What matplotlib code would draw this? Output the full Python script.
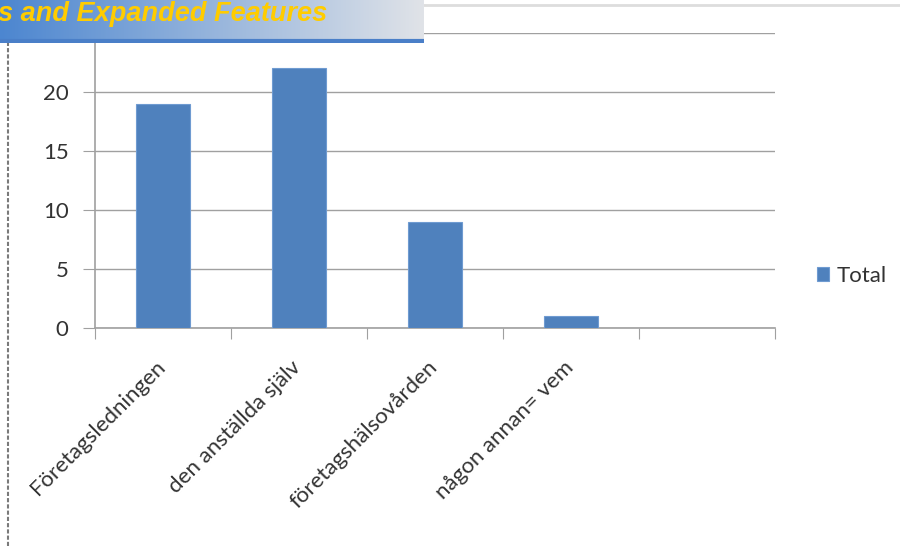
import numpy as np
from matplotlib import pyplot as plt
from matplotlib.transforms import ScaledTranslation

# chart data
categories = ["Företagsledningen", "den anställda själv", "företagshälsovården", "någon annan= vem", ""]
totals = [19, 22, 9, 1, np.nan]
y_ticks = [0, 5, 10, 15, 20, 25]
y_labels = ["0", "5", "10", "15", "20", ""]
banner_text = "s and Expanded Features"
legend_label = "Total"

W, H = 900, 546
bar_color = "#4F81BD"
grid_color = "#a0a0a0"
text_color = "#333333"


def fx(px):
    return px / W


def fy(py):
    # pixel from top -> figure fraction from bottom
    return 1 - py / H


def main():
    plt.rcParams['font.family'] = ['Lato', 'DejaVu Sans']
    fig = plt.figure(figsize=(W / 100, H / 100), dpi=100)

    # plot area
    ax = fig.add_axes([fx(95), fy(328), fx(775 - 95), (328 - 33) / H])
    x = np.arange(len(categories))
    ax.bar(x, totals, width=0.4, color=bar_color, edgecolor="#6f9bd1", linewidth=0.8,
           zorder=3, label=legend_label)
    ax.set_xlim(-0.5, len(categories) - 0.5)
    ax.set_ylim(0, 25)

    ax.set_yticks(y_ticks)
    ax.set_yticklabels(y_labels, fontsize=16, color=text_color)
    ax.yaxis.grid(True, color=grid_color, linewidth=1.0, zorder=0)
    ax.tick_params(axis="y", length=9, color=grid_color, pad=10)

    # boundaries as major ticks, labels as minor ticks on centres
    ax.set_xticks(np.arange(len(categories) + 1) - 0.5)
    ax.set_xticklabels([])
    ax.tick_params(axis="x", which="major", length=8, color=grid_color)
    ax.set_xticks(x, minor=True)
    ax.set_xticklabels(categories, minor=True, rotation=45, ha="right",
                       rotation_mode="anchor", fontsize=16, color=text_color)
    ax.tick_params(axis="x", which="minor", length=0, pad=21)
    shift = ScaledTranslation(-8 / 100, 0, fig.dpi_scale_trans)
    for lbl in ax.get_xticklabels(minor=True):
        lbl.set_transform(lbl.get_transform() + shift)

    for side in ["top", "right"]:
        ax.spines[side].set_visible(False)
    for side in ["left", "bottom"]:
        ax.spines[side].set_color(grid_color)
        ax.spines[side].set_linewidth(1.2)

    fig.legend(loc="center left", bbox_to_anchor=(fx(797), fy(276)), frameon=False,
               fontsize=16, handlelength=0.55, handleheight=0.55, handletextpad=0.35,
               labelcolor=text_color)

    # slide frame lines
    fig.add_artist(plt.Line2D([fx(424), 1], [fy(5), fy(5)], color="#dddddd", linewidth=2))
    fig.add_artist(plt.Line2D([fx(8), fx(8)], [0, fy(42)], color="#7a7a7a", linewidth=1.5,
                              linestyle=(0, (2, 1))))

    # gradient banner on top
    bax = fig.add_axes([0, fy(43), fx(424), 43 / H], zorder=10)
    left = np.array([76, 134, 208]) / 255
    right = np.array([224, 227, 232]) / 255
    t = np.linspace(0, 1, 256)[None, :, None]
    grad = left + (right - left) * t
    bax.imshow(grad, aspect="auto", extent=(0, 1, 0, 1))
    bax.axhline(0.04, color="#4a7fc8", linewidth=3)
    bax.set_xlim(0, 1)
    bax.set_ylim(0, 1)
    bax.axis("off")
    bax.text(-0.004, 0.67, banner_text, color="#FFCC00", fontsize=19.5, fontweight="bold",
             fontstyle="italic", family="Liberation Sans", va="center", ha="left")

    plt.savefig("out.png", dpi=100)


if '__main__' == __name__:
    main()
